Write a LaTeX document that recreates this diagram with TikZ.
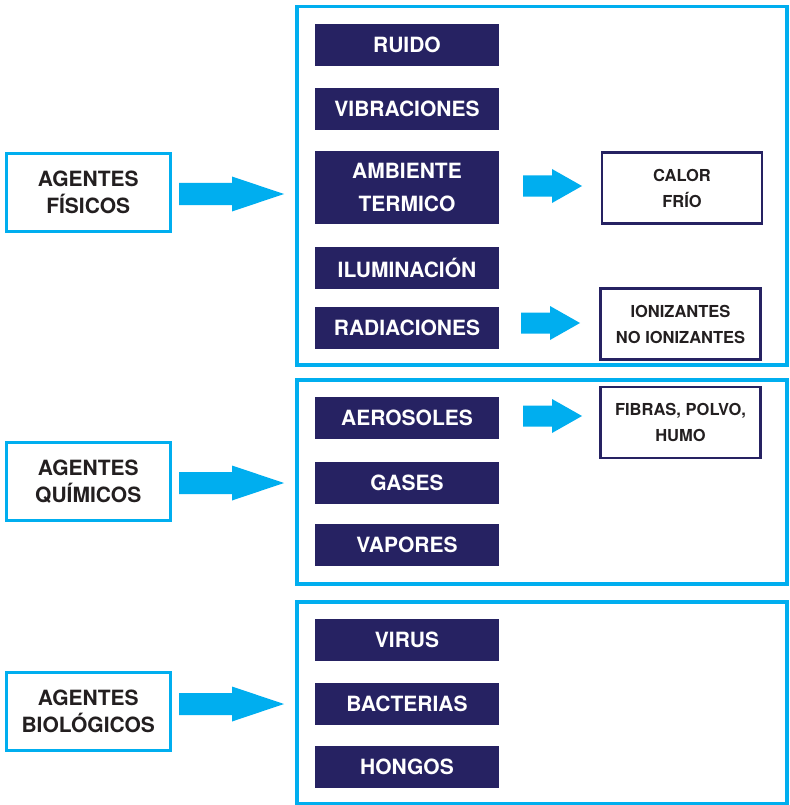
\documentclass[tikz,border=0pt]{standalone}
\usepackage{fontspec}
\setmainfont{TeX Gyre Heros}
\definecolor{cyanb}{HTML}{00AEEF}
\definecolor{navy}{HTML}{262262}
\definecolor{ink}{HTML}{231F20}
\begin{document}
\begin{tikzpicture}[x=1pt,y=-1pt,
  bigbox/.style={draw=cyanb,line width=3.5pt},
  agent/.style={draw=cyanb,line width=3pt,minimum width=163.5pt,minimum height=78pt,inner sep=0pt,
     align=center,font=\fontsize{21}{27}\selectfont\bfseries,text=ink},
  item/.style={fill=navy,minimum width=184pt,minimum height=42pt,inner sep=0pt,
     align=center,font=\fontsize{21}{33}\selectfont\bfseries,text=white},
  sub/.style={draw=navy,line width=2.5pt,minimum width=160pt,minimum height=71pt,inner sep=0pt,
     align=center,font=\fontsize{16.5}{26}\selectfont\bfseries,text=ink},
  pics/bigarrow/.style={code={\fill[cyanb] (0,-11) -- (53,-11) -- (53,-17.5) -- (105,0) -- (53,17.5) -- (53,11) -- (0,11) -- cycle;}},
  pics/smallarrow/.style={code={\fill[cyanb] (0,-10.5) -- (29,-10.5) -- (29,-17) -- (59,0) -- (29,17) -- (29,10.5) -- (0,10.5) -- cycle;}}
]
\useasboundingbox (0,0) rectangle (789,805);
\fill[white] (0,0) rectangle (789,805);
% big boxes
\draw[bigbox] (297,6.5) rectangle (787,365);
\draw[bigbox] (297,380) rectangle (787,584);
\draw[bigbox] (297,602) rectangle (787,803.5);
% agents
\node[agent] (fis) at (88.25,192.5) {AGENTES\\FÍSICOS};
\node[agent] (qui) at (88.25,481.5) {AGENTES\\QUÍMICOS};
\node[agent] (bio) at (88.25,711.5) {AGENTES\\BIOLÓGICOS};
\coordinate (a1) at (179,194);
\coordinate (a2) at (179,483);
\coordinate (a3) at (179,704);
\pic at (a1) {bigarrow};
\pic at (a2) {bigarrow};
\pic at (a3) {bigarrow};
% items
\node[item] (ruido) at (407,45) {RUIDO};
\node[item] (vib) at (407,109) {VIBRACIONES};
\node[item,minimum height=73pt] (amb) at (407,187.5) {AMBIENTE\\TERMICO};
\node[item] (ilu) at (407,268) {ILUMINACIÓN};
\node[item] (rad) at (407,328) {RADIACIONES};
\node[item] (aer) at (407,418) {AEROSOLES};
\node[item] (gas) at (407,483) {GASES};
\node[item] (vap) at (407,545) {VAPORES};
\node[item] (vir) at (407,640) {VIRUS};
\node[item] (bac) at (407,704) {BACTERIAS};
\node[item] (hon) at (407,766.5) {HONGOS};
% sub arrows
\coordinate (s1) at (523,186);
\coordinate (s2) at (521,323);
\coordinate (s3) at (523,416);
\pic at (s1) {smallarrow};
\pic at (s2) {smallarrow};
\pic at (s3) {smallarrow};
% sub boxes
\node[sub] (cal) at (682,188) {CALOR\\FRÍO};
\node[sub] (ion) at (680.5,324) {IONIZANTES\\NO IONIZANTES};
\node[sub] (fib) at (680.5,422.5) {FIBRAS, POLVO,\\HUMO};
\end{tikzpicture}
\end{document}
